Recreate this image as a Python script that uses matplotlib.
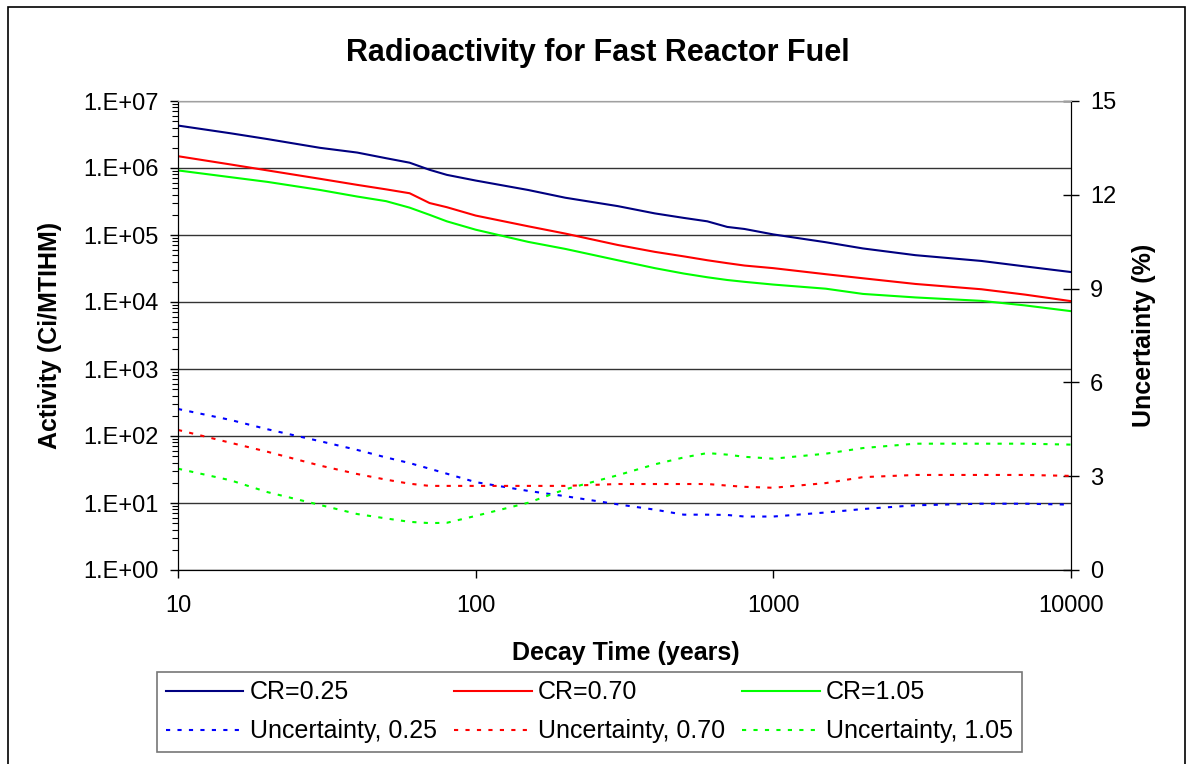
import numpy as np
import matplotlib
matplotlib.use('Agg')
import matplotlib.pyplot as plt
from matplotlib.ticker import FuncFormatter, NullLocator, LogLocator
from matplotlib.patches import Rectangle

plt.rcParams['font.family'] = ['Liberation Sans', 'DejaVu Sans']

# data
decay_time = [10, 15, 20, 30, 40, 50, 60, 70, 80, 100, 150, 200, 300, 400, 500,
              600, 700, 800, 1000, 1500, 2000, 3000, 5000, 7000, 10000]

act_025 = [4.3e6, 3.3e6, 2.7e6, 2.0e6, 1.7e6, 1.4e6, 1.2e6, 9.4e5, 7.9e5, 6.5e5,
           4.7e5, 3.6e5, 2.7e5, 2.1e5, 1.8e5, 1.6e5, 1.32e5, 1.23e5, 1.02e5,
           7.8e4, 6.3e4, 5.0e4, 4.1e4, 3.4e4, 2.8e4]
act_070 = [1.5e6, 1.13e6, 9.2e5, 6.9e5, 5.6e5, 4.8e5, 4.2e5, 3.0e5, 2.6e5, 1.95e5,
           1.35e5, 1.05e5, 7.1e4, 5.6e4, 4.8e4, 4.2e4, 3.8e4, 3.5e4, 3.2e4,
           2.6e4, 2.26e4, 1.86e4, 1.55e4, 1.29e4, 1.03e4]
act_105 = [9.2e5, 7.3e5, 6.2e5, 4.7e5, 3.75e5, 3.2e5, 2.56e5, 2.0e5, 1.6e5, 1.2e5,
           7.9e4, 6.2e4, 4.2e4, 3.2e4, 2.66e4, 2.34e4, 2.13e4, 2.0e4, 1.82e4,
           1.58e4, 1.32e4, 1.17e4, 1.04e4, 8.9e3, 7.3e3]

unc_025 = [5.15, 4.80, 4.50, 4.12, 3.84, 3.60, 3.42, 3.24, 3.08, 2.81, 2.53, 2.36,
           2.10, 1.93, 1.77, 1.77, 1.76, 1.71, 1.71, 1.84, 1.95, 2.07, 2.12, 2.12, 2.09]
unc_070 = [4.48, 4.07, 3.78, 3.34, 3.07, 2.89, 2.76, 2.69, 2.69, 2.69, 2.69, 2.69,
           2.75, 2.75, 2.75, 2.75, 2.70, 2.66, 2.63, 2.78, 2.97, 3.04, 3.04, 3.04, 3.01]
unc_105 = [3.24, 2.87, 2.49, 2.08, 1.79, 1.65, 1.54, 1.50, 1.51, 1.73, 2.15, 2.58,
           3.03, 3.38, 3.60, 3.74, 3.69, 3.62, 3.56, 3.72, 3.90, 4.04, 4.04, 4.04, 4.01]

x_ticks = [10, 100, 1000, 10000]
unc_ticks = [0, 3, 6, 9, 12, 15]

fig = plt.figure(figsize=(11.87, 7.64), dpi=100)
ax = fig.add_axes([178 / 1187, 194 / 764, 893 / 1187, 469 / 764])
ax2 = ax.twinx()

dots = (0, (2, 3.5))
l1, = ax.plot(decay_time, act_025, color='#000080', lw=1.5, label='CR=0.25')
l2, = ax.plot(decay_time, act_070, color='#ff0000', lw=1.5, label='CR=0.70')
l3, = ax.plot(decay_time, act_105, color='#00ff00', lw=1.5, label='CR=1.05')
d1, = ax2.plot(decay_time, unc_025, color='#0000ff', lw=1.5, ls=dots, label='Uncertainty, 0.25')
d2, = ax2.plot(decay_time, unc_070, color='#ff0000', lw=1.5, ls=dots, label='Uncertainty, 0.70')
d3, = ax2.plot(decay_time, unc_105, color='#00ff00', lw=1.5, ls=dots, label='Uncertainty, 1.05')

ax.set_xscale('log')
ax.set_yscale('log')
ax.set_xlim(10, 10000)
ax.set_ylim(1, 1e7)
ax.set_xticks(x_ticks)
ax.set_xticklabels([str(v) for v in x_ticks])
ax.xaxis.set_minor_locator(NullLocator())
ax.yaxis.set_major_locator(LogLocator(base=10, numticks=10))
ax.yaxis.set_minor_locator(LogLocator(base=10, subs=np.arange(2, 10), numticks=20))
ax.yaxis.set_major_formatter(FuncFormatter(lambda v, p: f"1.E+{int(round(np.log10(v))):02d}"))
ax.yaxis.grid(True, which='major', color='#333333', lw=1)

ax2.set_ylim(0, 15)
ax2.set_yticks(unc_ticks)

ax.tick_params(axis='y', which='major', direction='out', length=6, width=1, labelsize=17, pad=8)
ax.tick_params(axis='y', which='minor', direction='out', length=4, width=0.8)
ax.tick_params(axis='x', which='major', direction='out', length=6, width=1, labelsize=17, pad=12)
ax2.tick_params(axis='y', direction='inout', length=11, width=1, labelsize=17, pad=8)

for a in (ax, ax2):
    a.spines['top'].set_color('#a0a0a0')
    a.spines['right'].set_color('black')
    a.spines['left'].set_color('black')
    a.spines['bottom'].set_color('black')

ax.set_xlabel('Decay Time (years)', fontsize=18, fontweight='bold')
ax.set_ylabel('Activity (Ci/MTIHM)', fontsize=18, fontweight='bold')
ax2.set_ylabel('Uncertainty (%)', fontsize=18, fontweight='bold')
ax.xaxis.set_label_coords(0.502, -0.152)
ax.yaxis.set_label_coords(-0.130, 0.5)
ax2.yaxis.set_label_coords(1.068, 0.5)

fig.text(0.504, 1 - 53 / 764, 'Radioactivity for Fast Reactor Fuel',
         fontsize=22, fontweight='bold', ha='center', va='center')

# legend: column-wise fill gives the solid row on top
handles = [l1, d1, l2, d2, l3, d3]
leg = fig.legend(handles, [h.get_label() for h in handles], ncol=3,
                 loc='lower left', bbox_to_anchor=(157 / 1187, 12 / 764),
                 fontsize=18, frameon=True, fancybox=False, edgecolor='#555555',
                 handlelength=3.1, handletextpad=0.25, columnspacing=0.7,
                 borderpad=0.35, labelspacing=0.6, borderaxespad=0)
leg.get_frame().set_linewidth(1.2)

# outer chart border
fig.patches.append(Rectangle((8 / 1187, -0.05), 1177 / 1187, 1.05 - 7 / 764,
                             transform=fig.transFigure, fill=False,
                             edgecolor='black', lw=1.2))

fig.savefig('out.png', dpi=100)
